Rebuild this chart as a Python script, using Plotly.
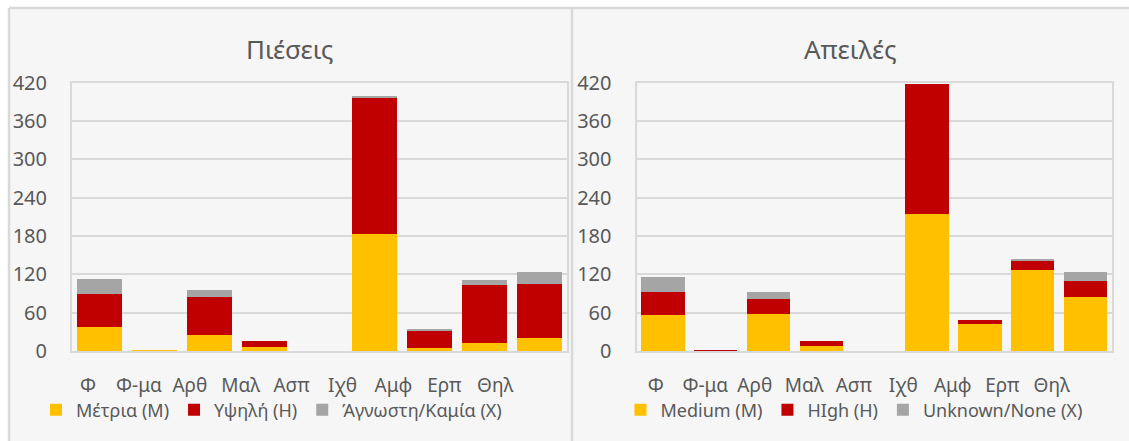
import plotly.graph_objects as go

categories = ["Φ", "Φ-μα", "Αρθ", "Μαλ", "Ασπ", "Ιχθ", "Αμφ", "Ερπ", "Θηλ"]

pressures_medium = [37, 2, 25, 7, 0, 183, 4, 12, 20]
pressures_high = [52, 0, 59, 9, 0, 215, 29, 91, 85]
pressures_unknown = [23, 0, 12, 0, 0, 1, 1, 8, 18]

threats_medium = [56, 0, 58, 8, 0, 214, 42, 127, 84]
threats_high = [37, 2, 24, 8, 0, 203, 6, 16, 25]
threats_unknown = [23, 0, 10, 0, 0, 0, 0, 1, 15]

left_names = ["Μέτρια (Μ)", "Υψηλή (Η)", "Άγνωστη/Καμία (Χ)"]
right_names = ["Medium (M)", "HIgh (H)", "Unknown/None (X)"]
titles = ["Πιέσεις", "Απειλές"]
y_ticks = [0, 60, 120, 180, 240, 300, 360, 420]

colors = ["#FFC000", "#C00000", "#A5A5A5"]
FONT = "Noto Sans"
TXT = "#595959"
GRID = "#d9d9d9"
BG = "#f6f6f6"
W, H = 1129, 441

fig = go.Figure()

for name, vals, col in zip(left_names, [pressures_medium, pressures_high, pressures_unknown], colors):
    fig.add_trace(go.Bar(x=categories, y=vals, name=name, marker=dict(color=col, line=dict(width=0)),
                         xaxis="x", yaxis="y", legend="legend"))
for name, vals, col in zip(right_names, [threats_medium, threats_high, threats_unknown], colors):
    fig.add_trace(go.Bar(x=categories, y=vals, name=name, marker=dict(color=col, line=dict(width=0)),
                         xaxis="x2", yaxis="y2", legend="legend2"))

# invisible carriers so the category-label axes get drawn
for xa, ya in [("x3", "y"), ("x4", "y2")]:
    fig.add_trace(go.Scatter(x=list(range(len(categories))), y=[None] * len(categories), mode="markers",
                             xaxis=xa, yaxis=ya, showlegend=False, hoverinfo="skip"))

def px_x(p):
    return p / W

def px_y(p):
    return 1 - p / H

ydom = [px_y(351), px_y(82.5)]
yaxis_common = dict(range=[0, 420], tickvals=y_ticks, showgrid=True, gridcolor=GRID, gridwidth=2,
                    showline=True, linecolor=GRID, linewidth=2, mirror=True, zeroline=False,
                    tickfont=dict(family=FONT, size=20, color=TXT), ticks="", ticklabelstandoff=19,
                    domain=ydom, fixedrange=True, automargin=False)
xaxis_common = dict(showline=True, linecolor=GRID, linewidth=2, mirror=True, showticklabels=False,
                    showgrid=False, zeroline=False, ticks="", automargin=False, fixedrange=True)
label_axis = dict(showline=False, showgrid=False, zeroline=False, ticks="", tickmode="array",
                  tickvals=list(range(len(categories))), ticktext=categories,
                  tickfont=dict(family=FONT, size=19, color=TXT), ticklabelstandoff=21,
                  automargin=False, fixedrange=True)

fig.update_layout(
    width=W, height=H,
    margin=dict(l=0, r=0, t=0, b=0, pad=0),
    paper_bgcolor="white",
    plot_bgcolor=BG,
    barmode="stack",
    bargap=0.18,
    font=dict(family=FONT, color=TXT),
    xaxis=dict(domain=[px_x(72), px_x(567)], anchor="y", **xaxis_common),
    yaxis=dict(anchor="x", **yaxis_common),
    xaxis2=dict(domain=[px_x(636.5), px_x(1112)], anchor="y2", **xaxis_common),
    yaxis2=dict(anchor="x2", **yaxis_common),
    xaxis3=dict(overlaying="x", anchor="y", range=[-0.3143, 9.411], **label_axis),
    xaxis4=dict(overlaying="x2", anchor="y2", range=[-0.39, 9.218], **label_axis),
    legend=dict(orientation="h", x=px_x(271.5), xanchor="center", y=px_y(410), yanchor="middle",
                bgcolor="rgba(0,0,0,0)", font=dict(family=FONT, size=18, color=TXT),
                traceorder="normal", itemclick=False),
    legend2=dict(orientation="h", x=px_x(854), xanchor="center", y=px_y(410), yanchor="middle",
                 bgcolor="rgba(0,0,0,0)", font=dict(family=FONT, size=18, color=TXT),
                 traceorder="normal", itemclick=False),
    showlegend=True,
)

# panel backgrounds and borders
fig.add_shape(type="rect", xref="paper", yref="paper", x0=px_x(9), x1=1, y0=0, y1=px_y(8),
              fillcolor=BG, line=dict(width=0), layer="below")
for x0, y0, x1, y1 in [(9, 8, W, 8), (9, 8, 9, H), (572, 8, 572, H)]:
    fig.add_shape(type="line", xref="paper", yref="paper", x0=px_x(x0), x1=px_x(x1), y0=px_y(y0), y1=px_y(y1),
                  line=dict(color=GRID, width=2.5), layer="above")

for t, cx in zip(titles, [290, 850]):
    fig.add_annotation(text=t, xref="paper", yref="paper", x=px_x(cx), y=px_y(49), xanchor="center",
                       yanchor="middle", showarrow=False, font=dict(family=FONT, size=26, color=TXT))

fig.write_html("out.html", config={"displayModeBar": False},
               post_script="document.body.style.margin='0';document.body.style.overflow='hidden';")
